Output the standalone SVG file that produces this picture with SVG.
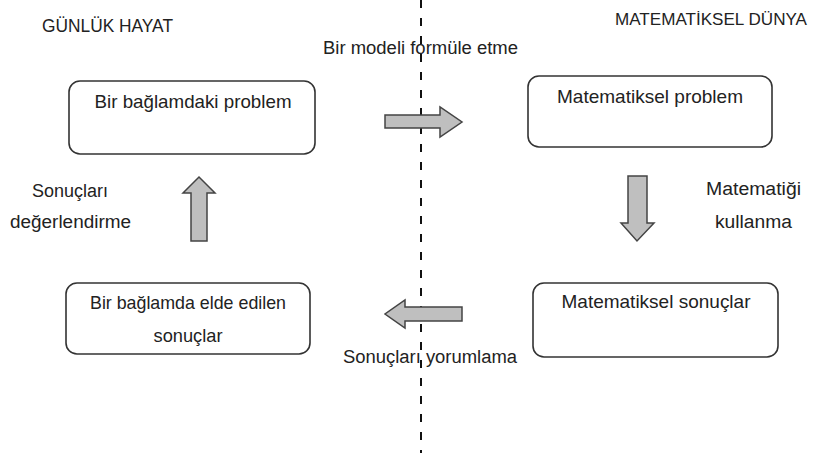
<svg xmlns="http://www.w3.org/2000/svg" width="814" height="453" viewBox="0 0 814 453">
<style>
text{font-family:"Liberation Sans",Arial,sans-serif;fill:#222;}
.lbl{font-size:18px;}
.nt{font-size:19px;text-anchor:middle;}
.box{fill:#fff;stroke:#333;stroke-width:1.6;}
.arr{fill:#bfbfbf;stroke:#444;stroke-width:1.5;stroke-linejoin:miter;}
.div{stroke:#111;stroke-width:2;stroke-dasharray:8 10;fill:none;}
</style>
<rect width="814" height="453" fill="#fff"/>
<g id="divider"><line class="div" x1="421" y1="0" x2="421" y2="453"/></g>
<g id="labels">
<text class="lbl" x="42" y="32" textLength="131" lengthAdjust="spacingAndGlyphs">GÜNLÜK HAYAT</text>
<text class="lbl" x="615" y="25" style="font-size:16.5px" textLength="192" lengthAdjust="spacingAndGlyphs">MATEMATİKSEL DÜNYA</text>
</g>
<g id="n1"><rect class="box" x="69" y="81" width="246" height="73" rx="11"/>
<text class="nt" x="193" y="108" textLength="197" lengthAdjust="spacingAndGlyphs">Bir bağlamdaki problem</text></g>
<g id="n2"><rect class="box" x="528" y="76" width="244" height="71" rx="11"/>
<text class="nt" x="650" y="103" textLength="186" lengthAdjust="spacingAndGlyphs">Matematiksel problem</text></g>
<g id="n3"><rect class="box" x="533" y="283" width="245" height="74" rx="11"/>
<text class="nt" x="656" y="308" textLength="189" lengthAdjust="spacingAndGlyphs">Matematiksel sonuçlar</text></g>
<g id="n4"><rect class="box" x="66" y="283" width="244" height="71" rx="11"/>
<text class="nt" x="188" y="309" textLength="196" lengthAdjust="spacingAndGlyphs">Bir bağlamda elde edilen</text>
<text class="nt" x="188" y="342" textLength="69" lengthAdjust="spacingAndGlyphs">sonuçlar</text></g>
<g id="connectors">
<path class="arr" d="M385,115 H440 V107 L462,122 L440,137 V128 H385 Z"/>
<path class="arr" d="M628,176 H647 V223 H654 L637,241 L621,223 H628 Z"/>
<path class="arr" d="M462,307 V321 H405 V328 L385,314 L405,300 V307 Z"/>
<path class="arr" d="M191,241 V193 H183 L199,177 L215,193 H207 V241 Z"/>
<text class="lbl" x="323" y="54" textLength="195" lengthAdjust="spacingAndGlyphs">Bir modeli formüle etme</text>
<text class="lbl" x="706" y="195" textLength="95" lengthAdjust="spacingAndGlyphs">Matematiği</text>
<text class="lbl" x="715" y="228" textLength="77" lengthAdjust="spacingAndGlyphs">kullanma</text>
<text class="lbl" x="343" y="363" textLength="174" lengthAdjust="spacingAndGlyphs">Sonuçları yorumlama</text>
<text class="lbl" x="32" y="197" textLength="76" lengthAdjust="spacingAndGlyphs">Sonuçları</text>
<text class="lbl" x="10" y="228" textLength="121" lengthAdjust="spacingAndGlyphs">değerlendirme</text>
</g>
</svg>
